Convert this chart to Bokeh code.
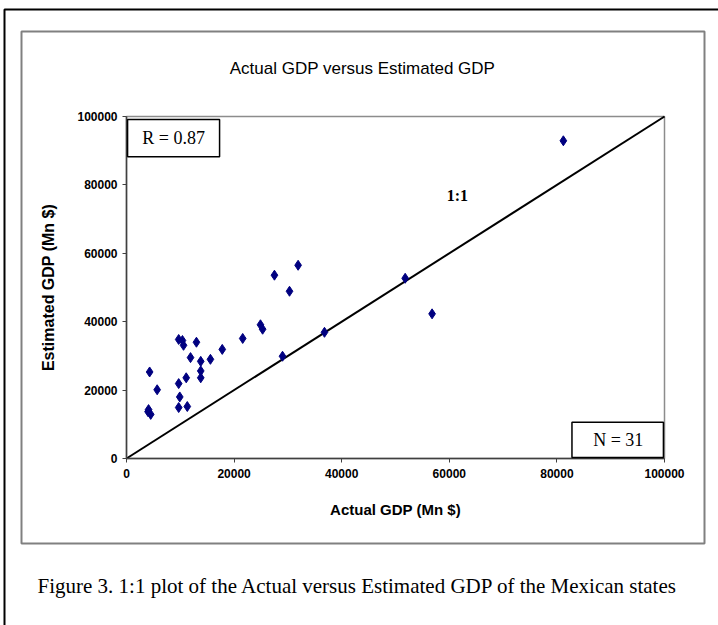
from bokeh.plotting import figure
from bokeh.models import (Range1d, FixedTicker, NumeralTickFormatter, Label,
                          BoxAnnotation, ColumnDataSource)
from bokeh.embed import file_html
from bokeh.resources import INLINE

# Actual vs estimated GDP of the Mexican states (millions of dollars)
actual_gdp = [4300, 5700, 4100, 4500, 4000, 9700, 10400, 10600, 13000, 11900,
              13800, 15600, 17800, 21600, 24900, 25300, 29000, 13800, 13800,
              11100, 9700, 9900, 9700, 11300, 27500, 31900, 30300, 36800,
              51800, 56800, 81200]
estimated_gdp = [25300, 20100, 14300, 12900, 13700, 34800, 34500, 33100, 34000,
                 29500, 28400, 29000, 31900, 35100, 39100, 37800, 29900, 25600,
                 23600, 23600, 21900, 18000, 14900, 15200, 53600, 56500, 48900,
                 36900, 52700, 42300, 92900]
axis_ticks = [0, 20000, 40000, 60000, 80000, 100000]
one_to_one = [0, 100000]

W, H = 718, 625
SANS = "Liberation Sans"
SERIF = "Liberation Serif"
# pixel box of the data area (0..100000 on both axes) inside the page
AREA_L, AREA_T, AREA_W, AREA_H = 126, 116, 538, 342


def dx(px):
    """page x pixel -> data x"""
    return (px - AREA_L) / AREA_W * 100000


def dy(py):
    """page y pixel (from top) -> data y"""
    return 100000 - (py - AREA_T) / AREA_H * 100000


# the frame spans the whole page so that the panel, title and caption can
# be drawn as annotations; the axes sit at x=0 / y=0
p = figure(width=W, height=H, output_backend="svg", toolbar_location=None,
           x_range=Range1d(dx(0), dx(W)), y_range=Range1d(dy(H), dy(0)),
           min_border=0, min_border_left=0, min_border_right=0,
           min_border_top=0, min_border_bottom=0)
p.background_fill_color = "white"
p.border_fill_color = "white"
p.outline_line_color = None
p.xgrid.visible = False
p.ygrid.visible = False

for ax in (p.xaxis, p.yaxis):
    ax.fixed_location = 0
    ax.bounds = (0, 100000)
    ax.ticker = FixedTicker(ticks=axis_ticks)
    ax.formatter = NumeralTickFormatter(format="0")
    ax.minor_tick_line_color = None
    ax.major_tick_in = 0
    ax.major_tick_out = 4
    ax.major_tick_line_color = "#404040"
    ax.axis_line_color = "#404040"
    ax.axis_line_width = 1.5
    ax.major_label_text_font = SANS
    ax.major_label_text_font_style = "bold"
    ax.major_label_text_font_size = "12px"
    ax.major_label_text_color = "black"
    ax.axis_label_text_font = SANS
    ax.axis_label_text_font_style = "bold"
    ax.axis_label_text_color = "black"

p.xaxis.axis_label = "Actual GDP (Mn $)"
p.yaxis.axis_label = "Estimated GDP (Mn $)"
p.xaxis.axis_label_text_font_size = "15px"
p.yaxis.axis_label_text_font_size = "16px"
p.xaxis.major_label_standoff = 6
p.yaxis.major_label_standoff = 5
p.xaxis.axis_label_standoff = 20
p.yaxis.axis_label_standoff = 17

# page frame and chart panel
p.add_layout(BoxAnnotation(left=dx(4), right=dx(W + 20), top=dy(9), bottom=dy(H + 20),
                           fill_alpha=0, line_color="black", line_alpha=1,
                           line_width=2, level="underlay"))
p.add_layout(BoxAnnotation(left=dx(21), right=dx(704), top=dy(31), bottom=dy(543),
                           fill_alpha=0, line_color="#808080", line_alpha=1,
                           line_width=2, level="underlay"))
# plot-area outline
p.add_layout(BoxAnnotation(left=0, right=100000, top=100000, bottom=0,
                           fill_alpha=0, line_color="#8c8c8c", line_alpha=1,
                           line_width=1.5, level="underlay"))

# 1:1 reference line
p.line(one_to_one, one_to_one, line_color="black", line_width=2)

# state points
src = ColumnDataSource(dict(x=actual_gdp, y=estimated_gdp))
p.scatter("x", "y", source=src, marker="diamond", size=10,
          fill_color="#000080", line_color="#000080")

p.add_layout(Label(x=61500, y=77000, text="1:1", text_font=SERIF,
                   text_font_size="16px", text_font_style="bold",
                   text_color="black", text_align="center",
                   text_baseline="middle"))

# statistic boxes
p.add_layout(BoxAnnotation(left=200, right=17300, top=99100, bottom=88200,
                           fill_color="white", fill_alpha=1,
                           line_color="black", line_alpha=1, line_width=1.5))
p.add_layout(Label(x=8750, y=93600, text="R = 0.87", text_font=SERIF,
                   text_font_size="18px", text_color="black",
                   text_align="center", text_baseline="middle"))
p.add_layout(BoxAnnotation(left=82800, right=99800, top=10600, bottom=300,
                           fill_color="white", fill_alpha=1,
                           line_color="black", line_alpha=1, line_width=1.5))
p.add_layout(Label(x=91400, y=5300, text="N = 31", text_font=SERIF,
                   text_font_size="18px", text_color="black",
                   text_align="center", text_baseline="middle"))

# chart title and figure caption
p.add_layout(Label(x=dx(362), y=dy(68),
                   text="Actual GDP versus Estimated GDP", text_font=SANS,
                   text_font_size="17px", text_color="black",
                   text_align="center", text_baseline="middle"))
p.add_layout(Label(x=dx(37), y=dy(585),
                   text="Figure 3. 1:1 plot of the Actual versus Estimated GDP of the Mexican states",
                   text_font=SERIF, text_font_size="21px", text_color="black",
                   text_align="left", text_baseline="middle"))

open("out.html", "w").write(file_html(p, INLINE))
